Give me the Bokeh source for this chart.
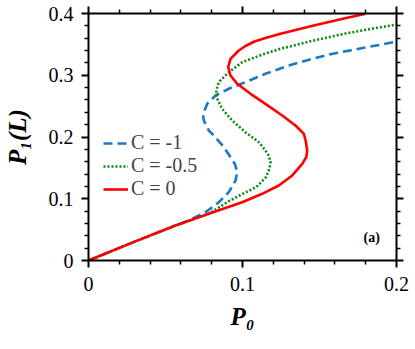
from bokeh.plotting import figure
from bokeh.models import Range1d, LinearAxis, FixedTicker, Legend, LegendItem, Label
from bokeh.embed import file_html
from bokeh.resources import INLINE

# ---- data ----
series_names = ["C = -1", "C = -0.5", "C = 0"]

blue_x = [0, 0.03, 0.0565, 0.0651, 0.0760, 0.0846, 0.0911, 0.0955, 0.0966, 0.0950,
          0.0915, 0.0879, 0.0814, 0.0781, 0.0749, 0.0745, 0.0749, 0.0771, 0.0825,
          0.0911, 0.1019, 0.1149, 0.1301, 0.1453, 0.1571, 0.1788, 0.1982, 0.2004]
blue_y = [0, 0.0305, 0.0567, 0.0648, 0.0782, 0.0944, 0.1106, 0.1296, 0.1430, 0.1566,
          0.1700, 0.1835, 0.2024, 0.2105, 0.2267, 0.2335, 0.2402, 0.2538, 0.2672,
          0.2781, 0.2888, 0.3024, 0.3158, 0.3266, 0.3340, 0.3445, 0.3535, 0.3540]

green_x = [0, 0.03, 0.0565, 0.0781, 0.0911, 0.0998, 0.1090, 0.1150, 0.1175, 0.1182,
           0.1170, 0.1149, 0.1106, 0.1019, 0.0933, 0.0868, 0.0836, 0.0829, 0.0846,
           0.0911, 0.0998, 0.1128, 0.1247, 0.1463, 0.1680, 0.1896, 0.2004]
green_y = [0, 0.0305, 0.0567, 0.0756, 0.0960, 0.1075, 0.1190, 0.1340, 0.1480, 0.1600,
           0.1700, 0.1781, 0.1916, 0.2078, 0.2267, 0.2457, 0.2619, 0.2753, 0.2888,
           0.3049, 0.3211, 0.3335, 0.3429, 0.3563, 0.3681, 0.3778, 0.3822]

red_x = [0, 0.03, 0.0565, 0.0781, 0.0998, 0.1128, 0.1236, 0.1323, 0.1388, 0.1415,
         0.1420, 0.1410, 0.1398, 0.1344, 0.1258, 0.1149, 0.1052, 0.0966, 0.0922,
         0.0907, 0.0922, 0.0976, 0.1019, 0.1078, 0.1149, 0.1247, 0.1463, 0.1680, 0.1800]
red_y = [0, 0.0305, 0.0567, 0.0756, 0.0944, 0.1080, 0.1215, 0.1377, 0.1566, 0.1680,
         0.1781, 0.1943, 0.2052, 0.2186, 0.2348, 0.2537, 0.2699, 0.2861, 0.2996,
         0.3131, 0.3266, 0.3401, 0.3474, 0.3547, 0.3603, 0.3671, 0.3806, 0.3930, 0.3995]

x_ticks = [0, 0.1, 0.2]
x_tick_labels = ["0", "0.1", "0.2"]
x_minor = [0.02, 0.04, 0.06, 0.08, 0.12, 0.14, 0.16, 0.18]
y_ticks = [0, 0.1, 0.2, 0.3, 0.4]
y_tick_labels = ["0", "0.1", "0.2", "0.3", "0.4"]
y_minor = [0.02, 0.04, 0.06, 0.08, 0.12, 0.14, 0.16, 0.18,
           0.22, 0.24, 0.26, 0.28, 0.32, 0.34, 0.36, 0.38]
x_title = "P\u2080"
y_title = "P\u2081(L)"
panel_tag = "(a)"

SERIF = "Liberation Serif"

p = figure(width=415, height=349, x_range=Range1d(0, 0.2), y_range=Range1d(0, 0.4),
           output_backend="svg", toolbar_location=None,
           x_axis_type=None, y_axis_type=None,
           min_border_left=88, min_border_right=19, min_border_top=13, min_border_bottom=89)
p.grid.visible = False
p.outline_line_color = None

bottom_axis = LinearAxis()
left_axis = LinearAxis()
top_axis = LinearAxis()
right_axis = LinearAxis()
p.add_layout(bottom_axis, "below")
p.add_layout(left_axis, "left")
p.add_layout(top_axis, "above")
p.add_layout(right_axis, "right")


def style(ax, ticks, minor, labels, show):
    ax.ticker = FixedTicker(ticks=ticks, minor_ticks=minor)
    ax.axis_line_width = 2
    ax.axis_line_color = "black"
    ax.major_tick_in = 0
    ax.major_tick_out = 7
    ax.minor_tick_in = 0
    ax.minor_tick_out = 4
    ax.major_tick_line_width = 2
    ax.minor_tick_line_width = 1.5
    ax.major_tick_line_color = "black"
    ax.minor_tick_line_color = "black"
    if show:
        ax.major_label_overrides = {t: s for t, s in zip(ticks, labels)}
        ax.major_label_text_font = SERIF
        ax.major_label_text_font_size = "20px"
        ax.major_label_text_color = "black"
        ax.axis_label_text_font = SERIF
        ax.axis_label_text_font_style = "bold italic"
        ax.axis_label_text_font_size = "25px"
        ax.axis_label_text_color = "black"
    else:
        ax.major_label_overrides = {t: "" for t in ticks}
        ax.major_label_text_font_size = "1px"
        ax.major_label_standoff = 0


style(bottom_axis, x_ticks, x_minor, x_tick_labels, True)
style(left_axis, y_ticks, y_minor, y_tick_labels, True)
style(top_axis, x_ticks, x_minor, x_tick_labels, False)
style(right_axis, y_ticks, y_minor, y_tick_labels, False)
bottom_axis.major_label_standoff = 9
left_axis.major_label_standoff = 8
bottom_axis.axis_label = x_title
left_axis.axis_label = y_title
bottom_axis.axis_label_standoff = 9
left_axis.axis_label_standoff = 15

r_blue = p.line(blue_x, blue_y, line_color="#1a78c8", line_width=2.6, line_dash="9 5")
r_green = p.line(green_x, green_y, line_color="#0a8a0a", line_width=2.6, line_dash="2 2")
r_red = p.line(red_x, red_y, line_color="#ff0000", line_width=2.6)

legend = Legend(items=[LegendItem(label=series_names[0], renderers=[r_blue]),
                       LegendItem(label=series_names[1], renderers=[r_green]),
                       LegendItem(label=series_names[2], renderers=[r_red])],
                location=(15, 60), orientation="vertical")
legend.background_fill_alpha = 0
legend.border_line_color = None
legend.label_text_font = SERIF
legend.label_text_font_size = "20px"
legend.glyph_width = 25
legend.glyph_height = 20
legend.label_height = 20
legend.spacing = 0
legend.padding = 0
legend.margin = 0
legend.label_standoff = 3
p.add_layout(legend, "center")

p.add_layout(Label(x=0.1786, y=0.0243, text=panel_tag, text_font=SERIF, text_font_size="14px",
                   text_font_style="bold", text_color="black"))

open("out.html", "w").write(file_html(p, INLINE))
